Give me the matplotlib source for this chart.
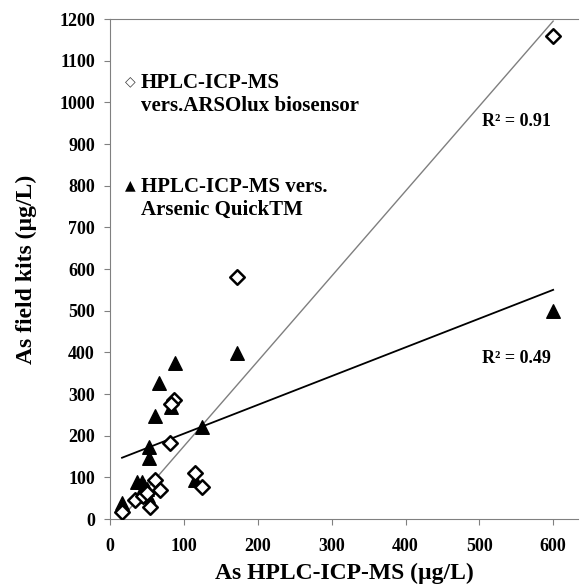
import matplotlib
matplotlib.use("Agg")
import matplotlib.pyplot as plt
import numpy as np

# HPLC-ICP-MS vs ARSOlux biosensor (open diamonds)
arso_x = [600, 172, 86, 83, 81, 115, 124, 61, 68, 54, 34, 45, 16, 50]
arso_y = [1160, 581, 285, 275, 182, 110, 77, 94, 70, 29, 46, 55, 17, 62]

# HPLC-ICP-MS vs Arsenic QuickTM (filled triangles)
quick_x = [600, 172, 88, 66, 61, 83, 124, 52, 53, 36, 43, 115, 16, 51, 50, 46]
quick_y = [500, 398, 374, 326, 248, 270, 221, 173, 146, 88, 90, 94, 38, 55, 72, 80]

# trendlines: slope, intercept, x span
arso_fit = [2.04, -29.0]
quick_fit = [0.69, 136.0]
fit_span = [16, 600]

x_ticks = [0, 100, 200, 300, 400, 500, 600]
y_ticks = list(range(0, 1201, 100))

plt.rcParams['font.family'] = ['Liberation Serif', 'DejaVu Sans']
plt.rcParams['font.weight'] = 'bold'

fig = plt.figure(figsize=(5.8, 5.85), dpi=100)
ax = fig.add_axes([0.19, 0.1128, 0.807, 0.8547])

xs = np.array(fit_span, dtype=float)
ax.plot(xs, arso_fit[0] * xs + arso_fit[1], color='#7f7f7f', lw=1.0, zorder=2)
ax.plot(xs, quick_fit[0] * xs + quick_fit[1], color='black', lw=1.3, zorder=2)

ax.scatter(quick_x, quick_y, marker='^', s=95, color='black', zorder=3)
ax.scatter(arso_x, arso_y, marker='D', s=55, facecolor='white', edgecolor='black',
           linewidths=1.8, zorder=4)

ax.set_xlim(0, 634)
ax.set_ylim(0, 1200)
ax.set_xticks(x_ticks)
ax.set_yticks(y_ticks)
ax.tick_params(direction='out', length=4, color='#808080', labelsize=13, pad=7)
ax.tick_params(axis='x', pad=10)
for lab in ax.get_xticklabels() + ax.get_yticklabels():
    lab.set_fontweight('bold')

for side in ['left', 'bottom', 'top']:
    ax.spines[side].set_color('#808080')
ax.spines['right'].set_visible(False)

ax.set_xlabel('As HPLC-ICP-MS (µg/L)', fontsize=17, fontweight='bold', labelpad=5)
ax.set_ylabel('As field kits (µg/L)', fontsize=17, fontweight='bold', labelpad=16)

# legend as free text, like the original
ax.text(0.043, 0.876, '◇', transform=ax.transAxes, fontsize=10,
        family=['DejaVu Sans'], va='center', ha='center', color='#404040')
ax.text(0.066, 0.892, 'HPLC-ICP-MS\nvers.ARSOlux biosensor', transform=ax.transAxes,
        fontsize=15, fontweight='bold', va='top', ha='left', linespacing=1.2)
ax.text(0.043, 0.668, '▲', transform=ax.transAxes, fontsize=10,
        family=['DejaVu Sans'], va='center', ha='center')
ax.text(0.066, 0.684, 'HPLC-ICP-MS vers.\nArsenic QuickTM', transform=ax.transAxes,
        fontsize=15, fontweight='bold', va='top', ha='left', linespacing=1.2)

ax.text(550, 955, 'R² = 0.91', fontsize=13, fontweight='bold', ha='center', va='center')
ax.text(550, 386, 'R² = 0.49', fontsize=13, fontweight='bold', ha='center', va='center')

fig.savefig('out.png', dpi=100)
